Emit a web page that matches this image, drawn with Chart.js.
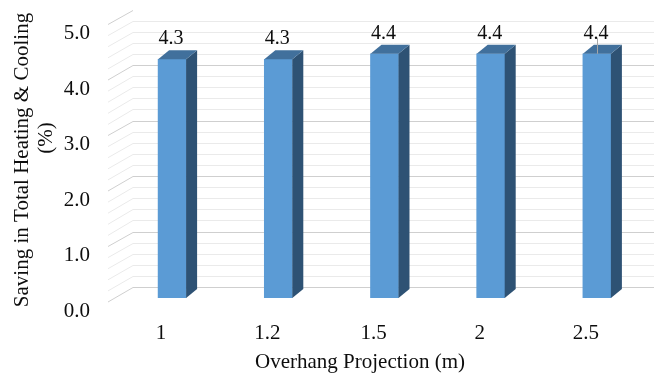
<!DOCTYPE html>
<html>
<head>
<meta charset="utf-8">
<script src="https://cdn.jsdelivr.net/npm/chart.js@4/dist/chart.umd.min.js"></script>
<style>
  html, body { margin: 0; padding: 0; background: #ffffff; }
  #wrap { width: 654px; height: 374px; }
</style>
</head>
<body>
<div id="wrap"><canvas id="c" width="654" height="374"></canvas></div>
<script>
// Overhang projection lengths (m) and the resulting saving (%)
const projections = ['1', '1.2', '1.5', '2', '2.5'];
const savings = [4.3, 4.3, 4.4, 4.4, 4.4];
const yTicks = [0, 1, 2, 3, 4, 5];

const FONT = 'Liberation Serif';
const TEXT = '#0d0d0d';

// depth of the columns (pseudo-3D extrusion)
const BAR_DX = 11, BAR_DY = -9;
// floor / back wall geometry relative to the value scale
const WALL_DX = 14, WALL_DY = -11;     // back wall, from chartArea.left
const FRONT_DX = -11, FRONT_DY = 4;    // front edge of the side wall

const wallPlugin = {
  id: 'wall',
  beforeDatasetsDraw(chart) {
    const { ctx, chartArea, scales: { y } } = chart;
    const xBack = chartArea.left + WALL_DX;
    const xFront = chartArea.left + FRONT_DX;
    ctx.save();
    ctx.lineWidth = 1;
    for (let k = 0; k <= 25; k++) {
      const v = k / 5;
      const major = k % 5 === 0;
      ctx.strokeStyle = major ? '#cfcfcf' : '#eaeaea';
      const yb = Math.round(y.getPixelForValue(v) + WALL_DY) + 0.5;
      const yf = y.getPixelForValue(v) + FRONT_DY;
      ctx.beginPath();
      ctx.moveTo(xFront, yf);
      ctx.lineTo(xBack, yb);
      if (k < 25) ctx.lineTo(chart.width, yb);
      ctx.stroke();
    }
    ctx.restore();
  }
};

const boxPlugin = {
  id: 'box3d',
  afterDatasetsDraw(chart) {
    const { ctx } = chart;
    const meta = chart.getDatasetMeta(0);
    ctx.save();
    meta.data.forEach((bar) => {
      const { x, y, base, width } = bar.getProps(['x', 'y', 'base', 'width'], true);
      const l = x - width / 2, r = x + width / 2;
      // side face
      ctx.fillStyle = '#2e5274';
      ctx.beginPath();
      ctx.moveTo(r, y);
      ctx.lineTo(r + BAR_DX, y + BAR_DY);
      ctx.lineTo(r + BAR_DX, base + BAR_DY);
      ctx.lineTo(r, base);
      ctx.closePath();
      ctx.fill();
      // top face
      ctx.fillStyle = '#41709c';
      ctx.beginPath();
      ctx.moveTo(l, y);
      ctx.lineTo(l + BAR_DX, y + BAR_DY);
      ctx.lineTo(r + BAR_DX, y + BAR_DY);
      ctx.lineTo(r, y);
      ctx.closePath();
      ctx.fill();
    });
    // value labels
    ctx.fillStyle = TEXT;
    ctx.font = '20px "' + FONT + '"';
    ctx.textAlign = 'center';
    ctx.textBaseline = 'alphabetic';
    meta.data.forEach((bar, i) => {
      const { x, y } = bar.getProps(['x', 'y'], true);
      ctx.fillText(savings[i].toFixed(1), x - 1, y - 15);
    });
    // leader line of the last label
    const last = meta.data[meta.data.length - 1].getProps(['x', 'y'], true);
    ctx.strokeStyle = '#a6a6a6';
    ctx.lineWidth = 1;
    ctx.beginPath();
    ctx.moveTo(Math.round(last.x) + 0.5, last.y - 16);
    ctx.lineTo(Math.round(last.x) + 0.5, last.y);
    ctx.stroke();
    ctx.restore();
  }
};

// axis titles
const titlePlugin = {
  id: 'axisTitles',
  afterDraw(chart) {
    const { ctx } = chart;
    ctx.save();
    ctx.fillStyle = TEXT;
    ctx.font = '21px "' + FONT + '"';
    ctx.textAlign = 'center';
    ctx.textBaseline = 'middle';
    ctx.fillText('Overhang Projection (m)', 360, 362);
    ctx.translate(22, 160);
    ctx.rotate(-Math.PI / 2);
    ctx.fillText('Saving in Total Heating & Cooling', 0, 0);
    ctx.restore();
    ctx.save();
    ctx.fillStyle = TEXT;
    ctx.font = '21px "' + FONT + '"';
    ctx.textAlign = 'center';
    ctx.textBaseline = 'middle';
    ctx.translate(46, 138);
    ctx.rotate(-Math.PI / 2);
    ctx.fillText('(%)', 0, 0);
    ctx.restore();
  }
};

new Chart(document.getElementById('c'), {
  type: 'bar',
  data: {
    labels: projections,
    datasets: [{
      data: savings,
      backgroundColor: '#5b9bd5',
      borderWidth: 0,
      barThickness: 28
    }]
  },
  options: {
    responsive: false,
    animation: false,
    devicePixelRatio: 1,
    layout: { padding: { top: 20.5, right: 4, left: 0, bottom: 0 } },
    plugins: { legend: { display: false }, tooltip: { enabled: false } },
    scales: {
      x: {
        grid: { display: false, drawTicks: false },
        border: { display: false },
        ticks: { color: TEXT, font: { family: FONT, size: 21 }, padding: 23, labelOffset: -11 },
        afterFit(s) { s.height = 76; s.paddingLeft = 0; s.paddingRight = 0; }
      },
      y: {
        min: 0, max: 5,
        afterBuildTicks(s) { s.ticks = yTicks.map(v => ({ value: v })); },
        grid: { display: false, drawTicks: false },
        border: { display: false },
        ticks: {
          color: TEXT, font: { family: FONT, size: 21 }, padding: 29, labelOffset: 13,
          callback: v => Number(v).toFixed(1)
        },
        afterFit(s) { s.width = 119; s.paddingTop = 0; s.paddingBottom = 0; }
      }
    }
  },
  plugins: [wallPlugin, boxPlugin, titlePlugin]
});
</script>
</body>
</html>
